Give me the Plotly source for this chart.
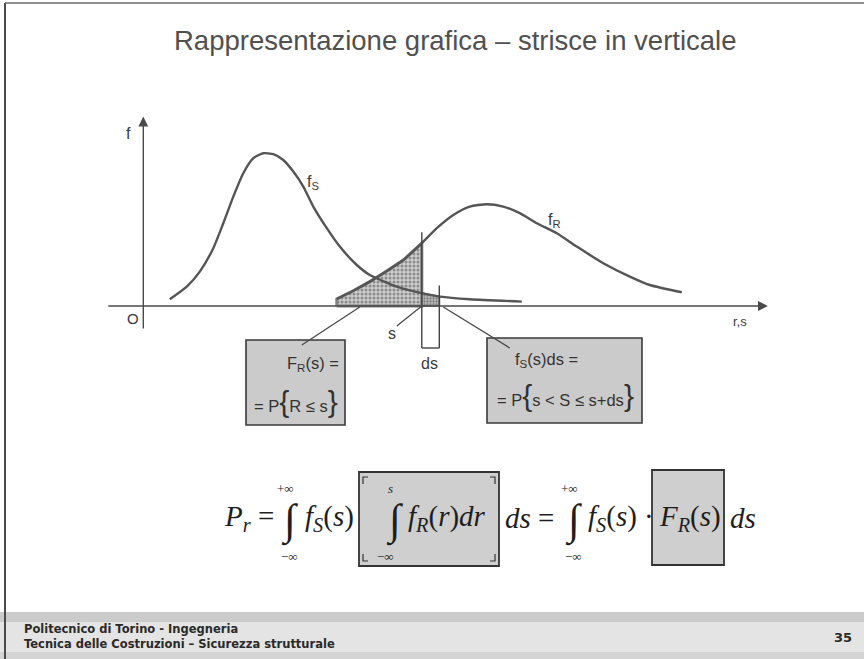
import numpy as np
import plotly.graph_objects as go

W, H = 864, 659

# Densities of load effect S and resistance R (diagram units)
s_grid = [0.53, 0.87, 1.13, 1.40, 1.60, 1.80, 2.00, 2.20, 2.40, 2.60, 2.80, 3.00,
          3.20, 3.40, 3.67, 3.93, 4.27, 4.53, 5.07, 5.57, 5.93, 6.53, 7.57]
f_S = [0.034, 0.097, 0.172, 0.289, 0.414, 0.547, 0.664, 0.739, 0.764, 0.759, 0.730, 0.672,
       0.597, 0.497, 0.389, 0.297, 0.205, 0.155, 0.097, 0.064, 0.047, 0.034, 0.022]
r_grid = [3.87, 4.19, 4.53, 4.80, 5.20, 5.57, 5.87, 6.20, 6.53, 6.87, 7.20, 7.53,
          7.87, 8.27, 8.67, 9.20, 9.73, 10.13, 10.77]
f_R = [0.035, 0.075, 0.122, 0.164, 0.230, 0.314, 0.389, 0.455, 0.497, 0.509, 0.497, 0.464,
       0.414, 0.364, 0.297, 0.214, 0.147, 0.105, 0.069]
s_value = 5.57
ds_value = 0.35

title_text = "Rappresentazione grafica – strisce in verticale"
footer_lines = ["Politecnico di Torino - Ingegneria",
                "Tecnica delle Costruzioni – Sicurezza strutturale"]
page_number = "35"

# Diagram placement on the page: origin pixel and pixels per unit
X0, Y0 = 143.3, 306.0
KX, KY = 50.0, 200.0
x_range = [-X0 / KX, (W - X0) / KX]
y_range = [(Y0 - H) / KY, Y0 / KY]


def px(x):
    return x / W


def py(y):
    return 1 - y / H


r_arr, fR_arr = np.array(r_grid), np.array(f_R)
s_arr, fS_arr = np.array(s_grid), np.array(f_S)
fR_at_s = float(np.interp(s_value, r_arr, fR_arr))
fS_at_s = float(np.interp(s_value, s_arr, fS_arr))
fS_at_sds = float(np.interp(s_value + ds_value, s_arr, fS_arr))

line_col = "#555555"
edge_col = "#808080"
txt_col = "#3a3a3a"

fig = go.Figure()

# F_R(s): area under f_R up to s
mask = r_arr < s_value
fx = np.concatenate([[r_arr[0]], r_arr[mask], [s_value, s_value, r_arr[0]]])
fy = np.concatenate([[0.0], fR_arr[mask], [fR_at_s, 0.0, 0.0]])
fig.add_trace(go.Scatter(
    x=fx, y=fy, mode="lines", fill="toself",
    line=dict(color=edge_col, width=3),
    fillcolor="#c8c8c8",
    fillpattern=dict(shape=".", bgcolor="#cdcdcd", fgcolor="#4a4a4a", size=4, solidity=0.45),
    hoverinfo="skip", showlegend=False))

# f_S(s) ds: strip between s and s+ds
fig.add_trace(go.Scatter(
    x=[s_value, s_value, s_value + ds_value, s_value + ds_value, s_value],
    y=[0, fS_at_s, fS_at_sds, 0, 0], mode="lines", fill="toself",
    line=dict(color=edge_col, width=2),
    fillcolor="#b4b4b4",
    fillpattern=dict(shape=".", bgcolor="#bababa", fgcolor="#444444", size=3, solidity=0.45),
    hoverinfo="skip", showlegend=False))

# density curves
for xs, ys in [(s_grid, f_S), (r_grid, f_R)]:
    fig.add_trace(go.Scatter(x=xs, y=ys, mode="lines",
                             line=dict(color=line_col, width=2.4, shape="spline", smoothing=0.6),
                             hoverinfo="skip", showlegend=False))

shapes = []
ann = []

# axes with arrows
ann.append(dict(x=12.49, y=0, ax=-0.73, ay=0, xref="x", yref="y", axref="x", ayref="y", text="",
                showarrow=True, arrowhead=2, arrowsize=1.4, arrowwidth=1.4, arrowcolor="#4a4a4a"))
ann.append(dict(x=0, y=0.947, ax=0, ay=-0.12, xref="x", yref="y", axref="x", ayref="y", text="",
                showarrow=True, arrowhead=2, arrowsize=1.4, arrowwidth=1.4, arrowcolor="#4a4a4a"))

# s and s+ds verticals with the ds bracket
yb = -0.21
dark = dict(color="#444444", width=1.4)
shapes.append(dict(type="line", xref="x", yref="y", x0=s_value, x1=s_value, y0=yb, y1=fR_at_s + 0.055, line=dark))
shapes.append(dict(type="line", xref="x", yref="y", x0=s_value + ds_value, x1=s_value + ds_value, y0=yb,
                   y1=fS_at_sds + 0.055, line=dark))
shapes.append(dict(type="line", xref="x", yref="y", x0=s_value, x1=s_value + ds_value, y0=yb, y1=yb, line=dark))

# leader lines
lead = dict(color="#4a4a4a", width=1.3)
shapes.append(dict(type="line", xref="x", yref="y", x0=5.07, y0=-0.10, x1=s_value, y1=0, line=lead))
shapes.append(dict(type="line", xref="x", yref="y", x0=3.17, y0=-0.195, x1=4.33, y1=-0.005, line=lead))
shapes.append(dict(type="line", xref="x", yref="y", x0=s_value + ds_value + 0.08, y0=-0.005, x1=7.33, y1=-0.21,
                   line=lead))

for x, y, t, sz in [(-0.29, 0.865, "f", 16), (-0.21, -0.06, "O", 15), (11.93, -0.075, "r,s", 13),
                    (3.39, 0.62, "f<sub>S</sub>", 16), (8.23, 0.43, "f<sub>R</sub>", 16),
                    (4.97, -0.135, "s", 16), (5.73, -0.285, "ds", 16)]:
    ann.append(dict(x=x, y=y, xref="x", yref="y", text=t, showarrow=False,
                    xanchor="center", yanchor="middle",
                    font=dict(family="Liberation Sans, Arial", size=sz, color=txt_col)))

# probability boxes
for x0, y0, x1, y1 in [(246, 340, 345, 425), (487, 338, 642, 423)]:
    shapes.append(dict(type="rect", xref="paper", yref="paper", x0=px(x0), x1=px(x1), y0=py(y1), y1=py(y0),
                       fillcolor="#cbcbcb", line=dict(color="#3a3a3a", width=1.6), layer="below"))

brace = "<span style='font-size:30px'>{</span>"
brace_r = "<span style='font-size:30px'>}</span>"
box_font = dict(family="Liberation Sans, Arial", size=16.5, color="#333333")
for x, y, t in [(313, 364, "F<sub>R</sub>(s) ="),
                (296, 401, "= P" + brace + "R ≤ s" + brace_r),
                (546, 360, "f<sub>S</sub>(s)ds ="),
                (565, 395, "= P" + brace + "s < S ≤ s+ds" + brace_r)]:
    ann.append(dict(x=px(x), y=py(y), xref="paper", yref="paper", text=t, showarrow=False,
                    xanchor="center", yanchor="middle", font=box_font))

# formula: P_r = ∫ f_S(s) [∫ f_R(r) dr] ds = ∫ f_S(s) · F_R(s) ds
for x0, y0, x1, y1 in [(359, 472, 499, 566), (652, 470, 724, 565)]:
    shapes.append(dict(type="rect", xref="paper", yref="paper", x0=px(x0), x1=px(x1), y0=py(y1), y1=py(y0),
                       fillcolor="#cfcfcf", line=dict(color="#333333", width=1.8), layer="below"))
# square bracket ticks inside the first box
for xa, xb, ya, yb2 in [(363, 368, 477, 484), (495, 490, 477, 484), (363, 368, 561, 554), (495, 490, 561, 554)]:
    shapes.append(dict(type="path", xref="paper", yref="paper",
                       path=f"M {px(xb)},{py(ya)} L {px(xa)},{py(ya)} L {px(xa)},{py(yb2)}",
                       line=dict(color="#333333", width=1.2)))

ser = "Liberation Serif, Times New Roman"
fcol = "#1e1e1e"
yc = 518


def ftext(x, t, size=29, anchor="left", y=yc):
    ann.append(dict(x=px(x), y=py(y), xref="paper", yref="paper", text=t, showarrow=False,
                    xanchor=anchor, yanchor="middle", font=dict(family=ser, size=size, color=fcol)))


ftext(222, "<i>P</i><sub><i>r</i></sub> =")
for xi, up, upx, lowx in [(289, "+∞", -4, 0), (394, "<i>s</i>", -4, -9), (573, "+∞", -4, 0)]:
    ftext(xi, "∫", size=43, anchor="center", y=521)
    ftext(xi + upx, up, size=13, anchor="center", y=489)
    ftext(xi + lowx, "−∞", size=13, anchor="center", y=556)
ftext(303, "<i>f</i><sub><i>S</i></sub>(<i>s</i>)")
ftext(406, "<i>f</i><sub><i>R</i></sub>(<i>r</i>)<i>dr</i>")
ftext(503, "<i>ds</i> =")
ftext(586, "<i>f</i><sub><i>S</i></sub>(<i>s</i>) ·")
ftext(657, "<i>F</i><sub><i>R</i></sub>(<i>s</i>)")
ftext(728, "<i>ds</i>")

# title
ann.append(dict(x=px(455), y=py(40), xref="paper", yref="paper", text=title_text, showarrow=False,
                xanchor="center", yanchor="middle",
                font=dict(family="Liberation Sans, Arial", size=27.5, color="#505050")))

# page frame and footer band
shapes.append(dict(type="rect", xref="paper", yref="paper", x0=0, x1=1, y0=0, y1=py(612),
                   fillcolor="#e4e4e4", line=dict(width=0), layer="below"))
shapes.append(dict(type="rect", xref="paper", yref="paper", x0=0, x1=1, y0=py(622), y1=py(612),
                   fillcolor="#cbcbcb", line=dict(width=0), layer="below"))
shapes.append(dict(type="rect", xref="paper", yref="paper", x0=0, x1=1, y0=0, y1=py(652),
                   fillcolor="#d4d4d4", line=dict(width=0), layer="below"))
shapes.append(dict(type="line", xref="paper", yref="paper", x0=px(5), x1=px(5), y0=0, y1=py(3),
                   line=dict(color="#4a4a4a", width=2)))
shapes.append(dict(type="line", xref="paper", yref="paper", x0=px(5), x1=1, y0=py(3), y1=py(3),
                   line=dict(color="#6a6a6a", width=1.5)))

ann.append(dict(x=px(22), y=py(636), xref="paper", yref="paper",
                text="<b>" + "<br>".join(footer_lines) + "</b>",
                showarrow=False, xanchor="left", yanchor="middle", align="left",
                font=dict(family="DejaVu Sans", size=11.5, color="#2a2a2a")))
ann.append(dict(x=px(843), y=py(637), xref="paper", yref="paper", text="<b>" + page_number + "</b>",
                showarrow=False, xanchor="center", yanchor="middle",
                font=dict(family="DejaVu Sans", size=13, color="#2a2a2a")))

fig.update_layout(
    width=W, height=H, margin=dict(l=0, r=0, t=0, b=0),
    paper_bgcolor="white", plot_bgcolor="rgba(0,0,0,0)",
    xaxis=dict(range=x_range, visible=False, fixedrange=True),
    yaxis=dict(range=y_range, visible=False, fixedrange=True),
    shapes=shapes, annotations=ann, showlegend=False,
)

fig.write_html("out.html")
